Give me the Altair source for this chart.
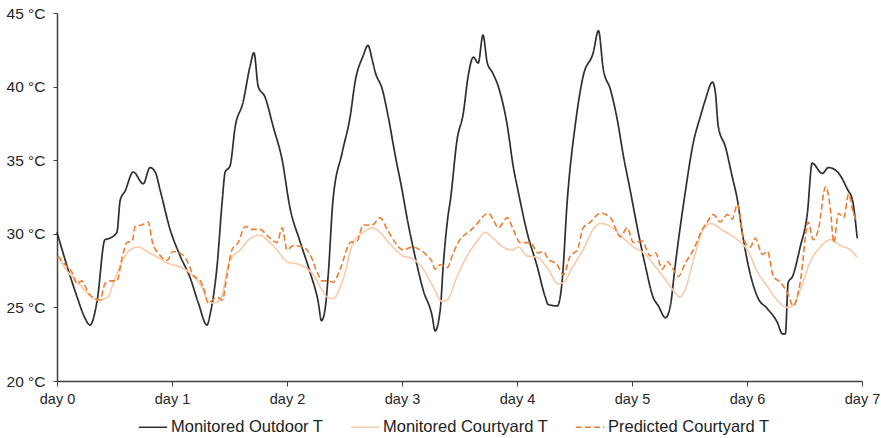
import altair as alt
import pandas as pd

# hours since start (day 0 = 0 h) and temperature in °C
out_h = [0, 2.1, 4.2, 5.8, 6.9, 8.4, 10, 11, 12.5, 13.2, 14.2, 15.9, 18, 19.4, 20.5, 21.5, 23.6, 25.7, 27.8, 29.5,
         31.3, 32, 33.4, 34.5, 35.1, 36.1, 37.2, 38.8, 40.3, 41.1, 42, 43.4, 45.1, 47, 48.6, 50.7, 52.8, 54.5, 55.2,
         56, 56.6, 57.6, 59.5, 61.2, 62.2, 63.9, 64.9, 65.8, 66.4, 67.9, 69.1, 70.6, 72.0, 73.1, 74.7, 76.4, 78.3,
         78.9, 80, 80.6, 81.6, 82.1, 83.5, 84.8, 85.8, 86.9, 87.9, 88.9, 89.8, 90.8, 92.1, 94, 95.2, 96.3, 98.1,
         100.2, 101.9, 102.5, 104.4, 105.4, 106.5, 108.2, 109.8, 111.9, 113.0, 114, 115.5, 116.9, 118.2, 119.6,
         121.3, 122.8, 124.4, 125.5, 127, 128, 129, 130, 131.1, 132.8, 134.3, 135.3, 136.8, 137.4, 138.0, 139.5,
         140.9, 142, 143, 144.3, 146.2, 148.3, 150.3, 151.4, 152, 152.6, 153.5, 155.1, 156.6, 157.6, 159.7, 161,
         162.9, 165, 166, 167]
out_t = [30.1, 27.8, 25.7, 24.3, 23.8, 25.5, 29.6, 29.7, 30.1, 32.3, 32.9, 34.2, 33.4, 34.5, 34.2, 33.0, 30.3, 28.5,
         27.0, 25.3, 23.8, 24.6, 27.8, 32.3, 34.2, 34.6, 37.3, 38.9, 41.4, 42.3, 40.0, 39.3, 37.3, 35.0, 31.8, 29.5,
         27.4, 25.4, 24.1, 25.0, 27.2, 32.3, 35.5, 38.0, 40.3, 42.1, 42.8, 41.8, 41.0, 39.8, 38.0, 35.3, 33.0, 31.0,
         28.5, 26.2, 24.4, 23.4, 24.9, 27.8, 31.2, 32.3, 36.4, 38.2, 40.7, 42.0, 41.6, 43.5, 41.6, 41.0, 40.0, 37.3,
         34.6, 32.8, 30.1, 27.8, 25.7, 25.2, 25.1, 26.7, 32.3, 37.5, 40.7, 42.3, 43.8, 41.2, 39.8, 37.8, 35.3, 33.0,
         30.1, 27.8, 25.7, 25.1, 24.3, 25.1, 27.8, 30.3, 32.8, 36.2, 38.0, 39.1, 40.3, 39.6, 37.3, 35.9, 33.9, 32.3,
         30.1, 27.8, 25.7, 24.9, 24.0, 23.2, 23.2, 26.7, 27.1, 29.1, 31.4, 34.8, 34.1, 34.5, 34.2, 33.0, 32.3, 29.7]

court_h = [0.2, 2.3, 4.4, 6.5, 8.6, 10.6, 11.7, 13.6, 14.6, 16.9, 18.8, 20.5, 23.2, 26.1, 28.2, 30.5, 31.5, 32.6, 34,
           36.1, 38.2, 40.9, 42.4, 43.8, 45.9, 48, 50.7, 53.5, 55.3, 56.4, 57.6, 59.7, 61.8, 63.9, 65.8, 67.4, 69.5,
           72.2, 74.3, 76.4, 78.5, 80.4, 81.4, 83.5, 85.6, 87.7, 89.4, 91, 93.1, 95, 96.3, 98.1, 100.2, 102.5, 104.6,
           105.7, 107.7, 109.8, 111.9, 113.4, 115.5, 118.2, 120.3, 122.4, 125.3, 127.4, 129, 130, 131.1, 132.8, 134.9,
           136.4, 139.1, 142, 144.1, 146.2, 148.3, 150.3, 152.4, 153.5, 155.1, 157.2, 159.3, 161.4, 163.5, 165.6, 167]
court_t = [28.4, 27.4, 26.7, 25.9, 25.5, 25.7, 26.6, 28.1, 28.7, 29.1, 28.8, 28.5, 28.0, 27.7, 27.2, 26.2, 25.4, 25.3,
           25.5, 28.2, 28.9, 29.8, 29.9, 29.6, 28.9, 28.1, 27.9, 27.2, 26.2, 25.7, 25.6, 26.9, 29.4, 30.1, 30.4, 30.1,
           29.3, 28.5, 28.3, 27.6, 26.4, 25.4, 25.5, 27.1, 28.5, 29.5, 30.1, 29.7, 29.1, 28.9, 29.1, 28.5, 28.4, 27.6,
           26.6, 26.7, 27.8, 28.9, 30.3, 30.7, 30.5, 29.7, 29.1, 28.7, 27.6, 26.7, 26.0, 25.7, 26.2, 28.2, 30.3, 30.7,
           30.2, 29.6, 28.9, 27.4, 26.4, 25.5, 25.0, 25.1, 26.2, 28.1, 29.1, 29.6, 29.2, 28.9, 28.4]

pred_h = [0.2, 1.7, 3.1, 4.2, 5.2, 6.5, 7.9, 9, 10, 11.1, 12.5, 13.6, 14.6, 15.7, 16.3, 17.7, 19, 20, 21.1, 23, 24.2,
          26.1, 27.4, 28.4, 29.9, 30.9, 31.5, 33.4, 34.5, 35.5, 36.5, 37.8, 39.3, 40.7, 42.4, 44.1, 45.9, 47, 48,
          49.3, 51.4, 52.8, 54.3, 55.3, 56.6, 57.6, 59.1, 61.2, 62.6, 63.9, 65.8, 67.4, 68.9, 70.6, 72.2, 74.1, 75.8,
          77.3, 78.3, 78.9, 80, 81.4, 82.7, 84.1, 86.2, 87.7, 88.7, 90, 91, 92.1, 94, 95.2, 96.7, 98.8, 100.4, 101.5,
          102.5, 104.4, 105.7, 107.1, 108.6, 109.8, 111.3, 113.4, 115.5, 117.6, 119, 120.3, 122.1, 123.8, 124.9,
          126.3, 127.4, 128.4, 129.7, 131.1, 132.8, 134.7, 135.7, 137, 138.4, 139.9, 140.9, 142, 143.3, 144.7, 145.7,
          147.2, 148.3, 149.5, 151, 152.4, 153.7, 155.1, 156.8, 157.8, 158.9, 160.4, 161.4, 162.1, 163.1, 164.2,
          165.2, 166.2, 167]
pred_t = [28.5, 27.9, 27.4, 26.6, 26.8, 26.0, 25.6, 25.5, 26.6, 26.8, 26.8, 28.4, 29.4, 29.5, 30.5, 30.6, 30.8, 29.3,
          28.7, 28.2, 28.8, 28.6, 28.0, 27.2, 26.8, 26.0, 25.3, 25.7, 25.5, 27.2, 28.9, 29.4, 30.5, 30.3, 30.3, 29.8,
          29.4, 30.4, 28.9, 29.2, 29.1, 28.6, 27.4, 26.8, 26.8, 26.7, 27.6, 29.4, 29.5, 30.6, 30.6, 31.1, 30.3, 29.4,
          28.9, 29.1, 28.9, 28.5, 28.1, 27.6, 27.9, 27.7, 28.7, 29.6, 30.2, 30.7, 31.1, 31.4, 31.0, 30.4, 31.1, 30.3,
          29.4, 29.4, 28.7, 28.8, 28.3, 27.9, 27.2, 28.5, 28.9, 30.4, 30.8, 31.4, 31.1, 29.8, 30.4, 29.4, 29.5, 28.5,
          28.7, 27.6, 28.1, 27.7, 27.1, 28.0, 28.9, 30.3, 30.8, 31.3, 30.8, 31.3, 31.0, 32.0, 29.6, 29.1, 29.7, 28.6,
          28.8, 27.1, 26.7, 26.0, 25.1, 26.7, 30.8, 29.6, 30.3, 33.2, 31.7, 29.4, 31.4, 31.1, 32.7, 31.4, 30.8]

names = ["Monitored Outdoor T", "Monitored Courtyard T", "Predicted Courtyard T"]
colors = ["#2e2e2e", "#f8cbad", "#ed7d31"]
dashes = [[1, 0], [1, 0], [6, 3]]
widths = [1.7, 1.6, 2.3]
day_ticks = [0, 24, 48, 72, 96, 120, 144, 168]
temp_ticks = [20, 25, 30, 35, 40, 45]

df = pd.concat([
    pd.DataFrame({"hour": out_h, "temp": out_t, "series": names[0], "ord": 0}),
    pd.DataFrame({"hour": court_h, "temp": court_t, "series": names[1], "ord": 1}),
    pd.DataFrame({"hour": pred_h, "temp": pred_t, "series": names[2], "ord": 2}),
])

legend = alt.Legend(
    title=None, orient="none", legendX=81, legendY=399, direction="horizontal",
    symbolType="stroke", symbolSize=800, symbolStrokeWidth=2, labelFontSize=16.5,
    labelColor="#222222", labelFont="Liberation Sans", columnPadding=23, labelOffset=3,
    labelLimit=0, values=names,
)

axis_style = dict(title=None, grid=False, domainColor="#404040", tickColor="#404040",
                  domainWidth=1.5, labelColor="#262626", labelFont="Liberation Sans")

chart = alt.Chart(df).mark_line(interpolate="monotone").encode(
    x=alt.X("hour:Q", scale=alt.Scale(domain=[0, 168], nice=False),
            axis=alt.Axis(values=day_ticks, labelExpr="'day ' + (datum.value / 24)", labelFlush=False,
                          labelFontSize=14.5, tickSize=5, labelPadding=6, **axis_style)),
    y=alt.Y("temp:Q", scale=alt.Scale(domain=[20, 45], nice=False, zero=False),
            axis=alt.Axis(values=temp_ticks, labelExpr="datum.value + ' °C'", labelFlush=False,
                          labelFontSize=15.5, tickSize=4, labelPadding=8, **axis_style)),
    color=alt.Color("series:N", scale=alt.Scale(domain=names, range=colors), legend=legend),
    strokeDash=alt.StrokeDash("series:N", scale=alt.Scale(domain=names, range=dashes), legend=legend),
    strokeWidth=alt.StrokeWidth("series:N", scale=alt.Scale(domain=names, range=widths), legend=None),
    order=alt.Order("ord:Q"),
).properties(
    width=805, height=368,
    autosize=alt.AutoSizeParams(type="none"),
    padding={"left": 57, "top": 13, "right": 19, "bottom": 57},
).configure_view(strokeWidth=0)

chart.save("out.html", embed_options={"renderer": "svg", "actions": False})
